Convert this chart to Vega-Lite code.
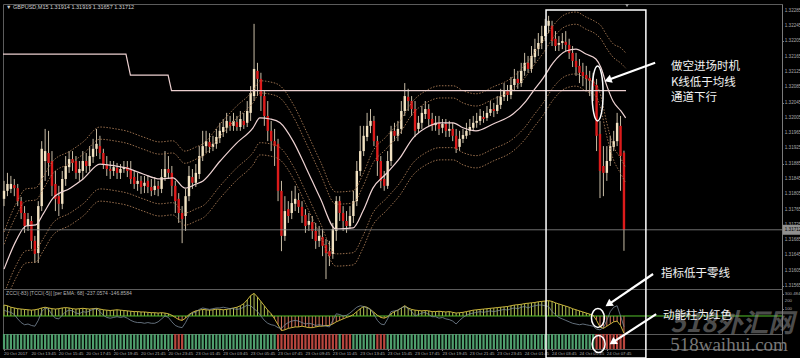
{
"$schema": "https://vega.github.io/schema/vega-lite/v6.json",
"background": "#000000",
"padding": {"top": 3, "left": 0, "right": 0, "bottom": 0},
"bounds": "flush",
"spacing": 0,
"config": {
  "view": {"stroke": "#5c5c5c", "strokeWidth": 1},
  "axis": {"labelFont": "Liberation Sans", "labelFontSize": 4.4, "labelColor": "#a9a9a9", "domainColor": "#7a7a7a", "tickColor": "#7a7a7a", "tickSize": 1.5, "grid": false, "labelPadding": 1},
  "text": {"font": "Noto Sans CJK SC"}
},
"datasets": {
  "one": [{"n": 1}],
  "pticks": [{"v":1.31565},{"v":1.31605},{"v":1.31645},{"v":1.31685},{"v":1.31725},{"v":1.31765},{"v":1.31805},{"v":1.31845},{"v":1.31885},{"v":1.31925},{"v":1.31965},{"v":1.32005},{"v":1.32045},{"v":1.32085},{"v":1.32125},{"v":1.32165},{"v":1.32205},{"v":1.32245},{"v":1.32285}],
  "iticks": [{"v":300.4843},{"v":200},{"v":100}],
  "dticks": [{"i":0,"d":"20 Oct 2017"},{"i":8,"d":"20 Oct 13:45"},{"i":16,"d":"20 Oct 15:45"},{"i":24,"d":"20 Oct 17:45"},{"i":32,"d":"20 Oct 19:45"},{"i":40,"d":"20 Oct 21:45"},{"i":48,"d":"20 Oct 23:45"},{"i":56,"d":"23 Oct 01:45"},{"i":64,"d":"23 Oct 03:45"},{"i":72,"d":"23 Oct 05:45"},{"i":80,"d":"23 Oct 07:45"},{"i":88,"d":"23 Oct 09:45"},{"i":96,"d":"23 Oct 11:45"},{"i":104,"d":"23 Oct 13:45"},{"i":112,"d":"23 Oct 15:45"},{"i":120,"d":"23 Oct 17:45"},{"i":128,"d":"23 Oct 19:45"},{"i":136,"d":"23 Oct 21:45"},{"i":144,"d":"23 Oct 23:45"},{"i":152,"d":"24 Oct 01:45"},{"i":160,"d":"24 Oct 03:45"},{"i":168,"d":"24 Oct 05:45"},{"i":176,"d":"24 Oct 07:45"}],
  "candles": [
{"i":0,"o":1.31793,"h":1.3184,"l":1.31774,"c":1.31814,"z":150,"t":80,"m":"g"},
{"i":1,"o":1.31814,"h":1.31861,"l":1.318,"c":1.31832,"z":140,"t":60,"m":"g"},
{"i":2,"o":1.31819,"h":1.31853,"l":1.31808,"c":1.31832,"z":120,"t":50,"m":"g"},
{"i":3,"o":1.31829,"h":1.31845,"l":1.318,"c":1.31821,"z":110,"t":20,"m":"g"},
{"i":4,"o":1.31821,"h":1.31832,"l":1.31774,"c":1.31787,"z":100,"t":-40,"m":"g"},
{"i":5,"o":1.31787,"h":1.31798,"l":1.3174,"c":1.31756,"z":95,"t":-90,"m":"g"},
{"i":6,"o":1.31756,"h":1.31774,"l":1.31704,"c":1.31722,"z":90,"t":-120,"m":"g"},
{"i":7,"o":1.31722,"h":1.31756,"l":1.31709,"c":1.3174,"z":85,"t":-110,"m":"g"},
{"i":8,"o":1.31735,"h":1.31748,"l":1.31662,"c":1.31683,"z":80,"t":-130,"m":"g"},
{"i":9,"o":1.31683,"h":1.31696,"l":1.31625,"c":1.31649,"z":85,"t":-140,"m":"g"},
{"i":10,"o":1.31651,"h":1.31787,"l":1.31625,"c":1.31774,"z":95,"t":-60,"m":"g"},
{"i":11,"o":1.31774,"h":1.31944,"l":1.31761,"c":1.31924,"z":110,"t":60,"m":"g"},
{"i":12,"o":1.31892,"h":1.31976,"l":1.3184,"c":1.31918,"z":120,"t":110,"m":"g"},
{"i":13,"o":1.31913,"h":1.31971,"l":1.31853,"c":1.31887,"z":110,"t":90,"m":"g"},
{"i":14,"o":1.31892,"h":1.31918,"l":1.318,"c":1.31827,"z":100,"t":20,"m":"g"},
{"i":15,"o":1.31832,"h":1.31866,"l":1.31761,"c":1.31793,"z":95,"t":-30,"m":"g"},
{"i":16,"o":1.318,"h":1.31827,"l":1.31748,"c":1.3178,"z":100,"t":-40,"m":"g"},
{"i":17,"o":1.3178,"h":1.31866,"l":1.31766,"c":1.31845,"z":110,"t":10,"m":"g"},
{"i":18,"o":1.31845,"h":1.31905,"l":1.31827,"c":1.31879,"z":115,"t":60,"m":"g"},
{"i":19,"o":1.31876,"h":1.31918,"l":1.31861,"c":1.31897,"z":110,"t":80,"m":"g"},
{"i":20,"o":1.31897,"h":1.31918,"l":1.31866,"c":1.31887,"z":100,"t":70,"m":"g"},
{"i":21,"o":1.31892,"h":1.31905,"l":1.31845,"c":1.31861,"z":95,"t":40,"m":"g"},
{"i":22,"o":1.31861,"h":1.31892,"l":1.3184,"c":1.31871,"z":100,"t":30,"m":"g"},
{"i":23,"o":1.31866,"h":1.31918,"l":1.31845,"c":1.31892,"z":105,"t":60,"m":"g"},
{"i":24,"o":1.31892,"h":1.31913,"l":1.31861,"c":1.31879,"z":100,"t":50,"m":"g"},
{"i":25,"o":1.31879,"h":1.31931,"l":1.31866,"c":1.31905,"z":95,"t":70,"m":"g"},
{"i":26,"o":1.31903,"h":1.3195,"l":1.31887,"c":1.31924,"z":100,"t":90,"m":"g"},
{"i":27,"o":1.31924,"h":1.31976,"l":1.31905,"c":1.31937,"z":105,"t":100,"m":"g"},
{"i":28,"o":1.31931,"h":1.31958,"l":1.31897,"c":1.31913,"z":95,"t":60,"m":"g"},
{"i":29,"o":1.31913,"h":1.31924,"l":1.31871,"c":1.31884,"z":85,"t":10,"m":"g"},
{"i":30,"o":1.31884,"h":1.31905,"l":1.31853,"c":1.31871,"z":80,"t":-20,"m":"g"},
{"i":31,"o":1.31871,"h":1.31892,"l":1.31845,"c":1.31866,"z":75,"t":-30,"m":"g"},
{"i":32,"o":1.31866,"h":1.31892,"l":1.31853,"c":1.31876,"z":80,"t":-20,"m":"g"},
{"i":33,"o":1.31874,"h":1.31887,"l":1.31845,"c":1.31861,"z":85,"t":-10,"m":"g"},
{"i":34,"o":1.31861,"h":1.31884,"l":1.31845,"c":1.31871,"z":80,"t":-20,"m":"g"},
{"i":35,"o":1.31871,"h":1.31892,"l":1.31861,"c":1.31876,"z":75,"t":-10,"m":"g"},
{"i":36,"o":1.31876,"h":1.31892,"l":1.3185,"c":1.31866,"z":70,"t":-30,"m":"g"},
{"i":37,"o":1.31871,"h":1.31892,"l":1.31832,"c":1.31845,"z":65,"t":-60,"m":"g"},
{"i":38,"o":1.3185,"h":1.31866,"l":1.31819,"c":1.31832,"z":60,"t":-80,"m":"g"},
{"i":39,"o":1.31832,"h":1.31861,"l":1.31814,"c":1.3184,"z":60,"t":-90,"m":"g"},
{"i":40,"o":1.3184,"h":1.31853,"l":1.31806,"c":1.31824,"z":55,"t":-90,"m":"g"},
{"i":41,"o":1.31827,"h":1.31853,"l":1.31808,"c":1.31835,"z":55,"t":-100,"m":"g"},
{"i":42,"o":1.3184,"h":1.31855,"l":1.31808,"c":1.31824,"z":50,"t":-90,"m":"g"},
{"i":43,"o":1.31824,"h":1.31845,"l":1.318,"c":1.31814,"z":45,"t":-100,"m":"g"},
{"i":44,"o":1.31816,"h":1.3185,"l":1.31803,"c":1.31827,"z":45,"t":-100,"m":"g"},
{"i":45,"o":1.31827,"h":1.3184,"l":1.318,"c":1.31819,"z":40,"t":-80,"m":"g"},
{"i":46,"o":1.31819,"h":1.31871,"l":1.31808,"c":1.3185,"z":45,"t":-40,"m":"g"},
{"i":47,"o":1.3185,"h":1.31918,"l":1.3184,"c":1.31871,"z":40,"t":0,"m":"g"},
{"i":48,"o":1.31871,"h":1.31905,"l":1.31845,"c":1.31861,"z":30,"t":-20,"m":"g"},
{"i":49,"o":1.31861,"h":1.31879,"l":1.318,"c":1.31827,"z":10,"t":-80,"m":"g"},
{"i":50,"o":1.31827,"h":1.3184,"l":1.31756,"c":1.31787,"z":-20,"t":-130,"m":"r"},
{"i":51,"o":1.31793,"h":1.31808,"l":1.3173,"c":1.31756,"z":-50,"t":-150,"m":"r"},
{"i":52,"o":1.31756,"h":1.31774,"l":1.31677,"c":1.3174,"z":-60,"t":-160,"m":"r"},
{"i":53,"o":1.31748,"h":1.31819,"l":1.31709,"c":1.318,"z":-30,"t":-90,"m":"g"},
{"i":54,"o":1.318,"h":1.31879,"l":1.31787,"c":1.31853,"z":20,"t":0,"m":"g"},
{"i":55,"o":1.3185,"h":1.31871,"l":1.31819,"c":1.31835,"z":50,"t":40,"m":"g"},
{"i":56,"o":1.31835,"h":1.31884,"l":1.31824,"c":1.31861,"z":70,"t":50,"m":"g"},
{"i":57,"o":1.31858,"h":1.31931,"l":1.31845,"c":1.31905,"z":80,"t":90,"m":"g"},
{"i":58,"o":1.31905,"h":1.31971,"l":1.31892,"c":1.31931,"z":90,"t":110,"m":"g"},
{"i":59,"o":1.31931,"h":1.31971,"l":1.31913,"c":1.31944,"z":85,"t":100,"m":"g"},
{"i":60,"o":1.31942,"h":1.31965,"l":1.31913,"c":1.31929,"z":80,"t":90,"m":"g"},
{"i":61,"o":1.31929,"h":1.31958,"l":1.31918,"c":1.31937,"z":85,"t":100,"m":"g"},
{"i":62,"o":1.31937,"h":1.31976,"l":1.31924,"c":1.31955,"z":95,"t":110,"m":"g"},
{"i":63,"o":1.31952,"h":1.31992,"l":1.31939,"c":1.31971,"z":90,"t":110,"m":"g"},
{"i":64,"o":1.31968,"h":1.32002,"l":1.31955,"c":1.31981,"z":85,"t":120,"m":"g"},
{"i":65,"o":1.31979,"h":1.32018,"l":1.31965,"c":1.31997,"z":90,"t":110,"m":"g"},
{"i":66,"o":1.31994,"h":1.3201,"l":1.31971,"c":1.31984,"z":100,"t":100,"m":"g"},
{"i":67,"o":1.31984,"h":1.32018,"l":1.31971,"c":1.31997,"z":110,"t":100,"m":"g"},
{"i":68,"o":1.31994,"h":1.3201,"l":1.31971,"c":1.31981,"z":120,"t":90,"m":"g"},
{"i":69,"o":1.31981,"h":1.32023,"l":1.31971,"c":1.32002,"z":140,"t":100,"m":"g"},
{"i":70,"o":1.31997,"h":1.32018,"l":1.31976,"c":1.31986,"z":170,"t":120,"m":"g"},
{"i":71,"o":1.31992,"h":1.32049,"l":1.31981,"c":1.32023,"z":220,"t":150,"m":"g"},
{"i":72,"o":1.32018,"h":1.32088,"l":1.31997,"c":1.3207,"z":280,"t":140,"m":"g"},
{"i":73,"o":1.32062,"h":1.32251,"l":1.32049,"c":1.32133,"z":310,"t":100,"m":"g"},
{"i":74,"o":1.32128,"h":1.32149,"l":1.32062,"c":1.32107,"z":260,"t":60,"m":"g"},
{"i":75,"o":1.32107,"h":1.32123,"l":1.32023,"c":1.32062,"z":200,"t":0,"m":"g"},
{"i":76,"o":1.32062,"h":1.32075,"l":1.31984,"c":1.3201,"z":140,"t":-60,"m":"g"},
{"i":77,"o":1.3201,"h":1.32049,"l":1.31944,"c":1.31971,"z":80,"t":-100,"m":"g"},
{"i":78,"o":1.31971,"h":1.31997,"l":1.31918,"c":1.31944,"z":30,"t":-120,"m":"g"},
{"i":79,"o":1.31944,"h":1.31976,"l":1.31879,"c":1.31931,"z":-40,"t":-130,"m":"g"},
{"i":80,"o":1.31937,"h":1.3195,"l":1.31787,"c":1.31814,"z":-120,"t":-160,"m":"r"},
{"i":81,"o":1.31814,"h":1.3184,"l":1.31656,"c":1.31696,"z":-200,"t":-170,"m":"r"},
{"i":82,"o":1.31696,"h":1.318,"l":1.31683,"c":1.31761,"z":-190,"t":-120,"m":"r"},
{"i":83,"o":1.31766,"h":1.31787,"l":1.3173,"c":1.31748,"z":-170,"t":-90,"m":"r"},
{"i":84,"o":1.31756,"h":1.31814,"l":1.3174,"c":1.31782,"z":-160,"t":-70,"m":"r"},
{"i":85,"o":1.3178,"h":1.31827,"l":1.31761,"c":1.31793,"z":-150,"t":-60,"m":"r"},
{"i":86,"o":1.3179,"h":1.31808,"l":1.31756,"c":1.31772,"z":-150,"t":-70,"m":"r"},
{"i":87,"o":1.31772,"h":1.31787,"l":1.3173,"c":1.31748,"z":-140,"t":-90,"m":"r"},
{"i":88,"o":1.31751,"h":1.31766,"l":1.31704,"c":1.31722,"z":-150,"t":-110,"m":"r"},
{"i":89,"o":1.31725,"h":1.31756,"l":1.31709,"c":1.31735,"z":-160,"t":-100,"m":"r"},
{"i":90,"o":1.31732,"h":1.31748,"l":1.31688,"c":1.31709,"z":-160,"t":-110,"m":"r"},
{"i":91,"o":1.31709,"h":1.3173,"l":1.31662,"c":1.31683,"z":-150,"t":-130,"m":"r"},
{"i":92,"o":1.31683,"h":1.31722,"l":1.31667,"c":1.31696,"z":-140,"t":-120,"m":"r"},
{"i":93,"o":1.31693,"h":1.31714,"l":1.31643,"c":1.3167,"z":-140,"t":-130,"m":"r"},
{"i":94,"o":1.31672,"h":1.31688,"l":1.31583,"c":1.31651,"z":-130,"t":-140,"m":"r"},
{"i":95,"o":1.31656,"h":1.31683,"l":1.31617,"c":1.31643,"z":-130,"t":-150,"m":"r"},
{"i":96,"o":1.31649,"h":1.3173,"l":1.31636,"c":1.31714,"z":-110,"t":-60,"m":"r"},
{"i":97,"o":1.31709,"h":1.318,"l":1.31683,"c":1.31787,"z":-80,"t":30,"m":"r"},
{"i":98,"o":1.31787,"h":1.318,"l":1.31735,"c":1.31756,"z":-60,"t":20,"m":"g"},
{"i":99,"o":1.31756,"h":1.31774,"l":1.31709,"c":1.31735,"z":-40,"t":0,"m":"r"},
{"i":100,"o":1.31735,"h":1.31761,"l":1.31704,"c":1.31722,"z":-20,"t":10,"m":"r"},
{"i":101,"o":1.31722,"h":1.31774,"l":1.31714,"c":1.31748,"z":-5,"t":40,"m":"r"},
{"i":102,"o":1.31748,"h":1.31814,"l":1.3173,"c":1.31787,"z":20,"t":80,"m":"g"},
{"i":103,"o":1.31787,"h":1.31892,"l":1.31774,"c":1.31866,"z":60,"t":120,"m":"g"},
{"i":104,"o":1.31866,"h":1.31984,"l":1.31853,"c":1.31918,"z":100,"t":140,"m":"g"},
{"i":105,"o":1.31918,"h":1.31984,"l":1.31905,"c":1.31958,"z":130,"t":130,"m":"g"},
{"i":106,"o":1.31955,"h":1.32018,"l":1.31944,"c":1.31984,"z":120,"t":110,"m":"g"},
{"i":107,"o":1.31984,"h":1.32028,"l":1.31965,"c":1.31997,"z":90,"t":90,"m":"g"},
{"i":108,"o":1.31997,"h":1.3201,"l":1.31931,"c":1.31944,"z":50,"t":20,"m":"g"},
{"i":109,"o":1.31944,"h":1.31958,"l":1.31853,"c":1.31892,"z":10,"t":-60,"m":"r"},
{"i":110,"o":1.31892,"h":1.31905,"l":1.31821,"c":1.3184,"z":-20,"t":-110,"m":"r"},
{"i":111,"o":1.31845,"h":1.31866,"l":1.31814,"c":1.31827,"z":-30,"t":-120,"m":"r"},
{"i":112,"o":1.31827,"h":1.31918,"l":1.31819,"c":1.31892,"z":-10,"t":-40,"m":"g"},
{"i":113,"o":1.31892,"h":1.31984,"l":1.31879,"c":1.31971,"z":30,"t":60,"m":"g"},
{"i":114,"o":1.31971,"h":1.31992,"l":1.31944,"c":1.31958,"z":60,"t":70,"m":"g"},
{"i":115,"o":1.31958,"h":1.31997,"l":1.31944,"c":1.31976,"z":80,"t":80,"m":"g"},
{"i":116,"o":1.31976,"h":1.32049,"l":1.31963,"c":1.32023,"z":110,"t":110,"m":"g"},
{"i":117,"o":1.32023,"h":1.32096,"l":1.3201,"c":1.32062,"z":140,"t":130,"m":"g"},
{"i":118,"o":1.3206,"h":1.32081,"l":1.32023,"c":1.32049,"z":110,"t":100,"m":"g"},
{"i":119,"o":1.32049,"h":1.32062,"l":1.3201,"c":1.32028,"z":90,"t":60,"m":"g"},
{"i":120,"o":1.32028,"h":1.32049,"l":1.31955,"c":1.31971,"z":80,"t":0,"m":"g"},
{"i":121,"o":1.31976,"h":1.3201,"l":1.31965,"c":1.31992,"z":75,"t":20,"m":"g"},
{"i":122,"o":1.31992,"h":1.32036,"l":1.31976,"c":1.32018,"z":70,"t":40,"m":"g"},
{"i":123,"o":1.32015,"h":1.32049,"l":1.32002,"c":1.32028,"z":75,"t":50,"m":"g"},
{"i":124,"o":1.32028,"h":1.32041,"l":1.31984,"c":1.32002,"z":70,"t":20,"m":"g"},
{"i":125,"o":1.32002,"h":1.32018,"l":1.31971,"c":1.31984,"z":60,"t":-10,"m":"g"},
{"i":126,"o":1.31986,"h":1.3201,"l":1.31971,"c":1.31992,"z":60,"t":-10,"m":"g"},
{"i":127,"o":1.31992,"h":1.3201,"l":1.3196,"c":1.31976,"z":65,"t":-30,"m":"g"},
{"i":128,"o":1.31979,"h":1.32002,"l":1.31965,"c":1.31989,"z":60,"t":-20,"m":"g"},
{"i":129,"o":1.31989,"h":1.32002,"l":1.31955,"c":1.31971,"z":55,"t":-40,"m":"g"},
{"i":130,"o":1.31971,"h":1.31997,"l":1.31955,"c":1.31976,"z":60,"t":-50,"m":"g"},
{"i":131,"o":1.31976,"h":1.31992,"l":1.31944,"c":1.31958,"z":50,"t":-70,"m":"g"},
{"i":132,"o":1.31958,"h":1.31976,"l":1.31913,"c":1.31924,"z":40,"t":-110,"m":"g"},
{"i":133,"o":1.31929,"h":1.31971,"l":1.31918,"c":1.3195,"z":45,"t":-60,"m":"g"},
{"i":134,"o":1.3195,"h":1.31976,"l":1.31939,"c":1.3196,"z":50,"t":-20,"m":"g"},
{"i":135,"o":1.31958,"h":1.31992,"l":1.3195,"c":1.31971,"z":60,"t":10,"m":"g"},
{"i":136,"o":1.31971,"h":1.32002,"l":1.3196,"c":1.31981,"z":70,"t":30,"m":"g"},
{"i":137,"o":1.31979,"h":1.3201,"l":1.31971,"c":1.31992,"z":80,"t":40,"m":"g"},
{"i":138,"o":1.31992,"h":1.32018,"l":1.31979,"c":1.31997,"z":85,"t":50,"m":"g"},
{"i":139,"o":1.31997,"h":1.32028,"l":1.31986,"c":1.3201,"z":90,"t":60,"m":"g"},
{"i":140,"o":1.32007,"h":1.32023,"l":1.31992,"c":1.32002,"z":95,"t":50,"m":"g"},
{"i":141,"o":1.32005,"h":1.32036,"l":1.31997,"c":1.32018,"z":100,"t":60,"m":"g"},
{"i":142,"o":1.32018,"h":1.32049,"l":1.3201,"c":1.32028,"z":105,"t":70,"m":"g"},
{"i":143,"o":1.32028,"h":1.32044,"l":1.32007,"c":1.32023,"z":110,"t":60,"m":"g"},
{"i":144,"o":1.32023,"h":1.32062,"l":1.32015,"c":1.32039,"z":115,"t":70,"m":"g"},
{"i":145,"o":1.32039,"h":1.32081,"l":1.32028,"c":1.3206,"z":120,"t":80,"m":"g"},
{"i":146,"o":1.3206,"h":1.32096,"l":1.32049,"c":1.32075,"z":125,"t":90,"m":"g"},
{"i":147,"o":1.32075,"h":1.32091,"l":1.32049,"c":1.32065,"z":130,"t":80,"m":"g"},
{"i":148,"o":1.32065,"h":1.32112,"l":1.32054,"c":1.32091,"z":140,"t":100,"m":"g"},
{"i":149,"o":1.32091,"h":1.32133,"l":1.32075,"c":1.32107,"z":150,"t":110,"m":"g"},
{"i":150,"o":1.32107,"h":1.32128,"l":1.32081,"c":1.32096,"z":155,"t":100,"m":"g"},
{"i":151,"o":1.32096,"h":1.32149,"l":1.32086,"c":1.32128,"z":160,"t":120,"m":"g"},
{"i":152,"o":1.32128,"h":1.32175,"l":1.32115,"c":1.32149,"z":170,"t":130,"m":"g"},
{"i":153,"o":1.32149,"h":1.32167,"l":1.32123,"c":1.32133,"z":175,"t":110,"m":"g"},
{"i":154,"o":1.32133,"h":1.32193,"l":1.32123,"c":1.32167,"z":180,"t":130,"m":"g"},
{"i":155,"o":1.32164,"h":1.32212,"l":1.32149,"c":1.32185,"z":185,"t":140,"m":"g"},
{"i":156,"o":1.32185,"h":1.32227,"l":1.32167,"c":1.32201,"z":195,"t":150,"m":"g"},
{"i":157,"o":1.32201,"h":1.32246,"l":1.32185,"c":1.32219,"z":200,"t":150,"m":"g"},
{"i":158,"o":1.32219,"h":1.32264,"l":1.32206,"c":1.32246,"z":205,"t":140,"m":"g"},
{"i":159,"o":1.32246,"h":1.32272,"l":1.32227,"c":1.32259,"z":210,"t":130,"m":"g"},
{"i":160,"o":1.32246,"h":1.32259,"l":1.32193,"c":1.32206,"z":200,"t":60,"m":"g"},
{"i":161,"o":1.32212,"h":1.32232,"l":1.3218,"c":1.32193,"z":180,"t":20,"m":"g"},
{"i":162,"o":1.32196,"h":1.32219,"l":1.3218,"c":1.32201,"z":165,"t":-20,"m":"g"},
{"i":163,"o":1.32201,"h":1.32227,"l":1.32185,"c":1.32206,"z":150,"t":-40,"m":"g"},
{"i":164,"o":1.32204,"h":1.32232,"l":1.3218,"c":1.32196,"z":135,"t":-60,"m":"g"},
{"i":165,"o":1.32196,"h":1.32212,"l":1.32159,"c":1.32175,"z":120,"t":-80,"m":"g"},
{"i":166,"o":1.32175,"h":1.32193,"l":1.32138,"c":1.32154,"z":100,"t":-100,"m":"g"},
{"i":167,"o":1.32154,"h":1.32175,"l":1.32115,"c":1.32138,"z":85,"t":-110,"m":"g"},
{"i":168,"o":1.32141,"h":1.32159,"l":1.32096,"c":1.32123,"z":70,"t":-120,"m":"g"},
{"i":169,"o":1.32125,"h":1.32149,"l":1.32088,"c":1.32115,"z":55,"t":-110,"m":"g"},
{"i":170,"o":1.32117,"h":1.32141,"l":1.32075,"c":1.32107,"z":40,"t":-120,"m":"g"},
{"i":171,"o":1.32109,"h":1.32128,"l":1.32062,"c":1.32102,"z":25,"t":-130,"m":"g"},
{"i":172,"o":1.32102,"h":1.32123,"l":1.32049,"c":1.32088,"z":10,"t":-140,"m":"g"},
{"i":173,"o":1.32091,"h":1.32107,"l":1.31918,"c":1.31958,"z":-60,"t":-180,"m":"r"},
{"i":174,"o":1.31963,"h":1.31997,"l":1.31795,"c":1.31866,"z":-150,"t":-190,"m":"r"},
{"i":175,"o":1.31879,"h":1.31931,"l":1.318,"c":1.31861,"z":-170,"t":-160,"m":"r"},
{"i":176,"o":1.31861,"h":1.31931,"l":1.3184,"c":1.31892,"z":-140,"t":-60,"m":"r"},
{"i":177,"o":1.31892,"h":1.31958,"l":1.31879,"c":1.31931,"z":-110,"t":60,"m":"r"},
{"i":178,"o":1.31929,"h":1.31971,"l":1.31918,"c":1.31944,"z":-80,"t":120,"m":"r"},
{"i":179,"o":1.31944,"h":1.32018,"l":1.31931,"c":1.31992,"z":-70,"t":140,"m":"r"},
{"i":180,"o":1.31984,"h":1.3201,"l":1.31814,"c":1.31905,"z":-130,"t":0,"m":"r"},
{"i":181,"o":1.31914,"h":1.31919,"l":1.31657,"c":1.31712,"z":-237.06,"t":-146.86,"m":"r"}
  ],
  "ma": [
{"i":0,"ma":1.31609,"u1":1.31674,"u2":1.31706,"d1":1.31544,"d2":1.31512},
{"i":3.5,"ma":1.31683,"u1":1.31748,"u2":1.3178,"d1":1.31618,"d2":1.31586},
{"i":6.4,"ma":1.31722,"u1":1.31787,"u2":1.31819,"d1":1.31657,"d2":1.31625},
{"i":9.3,"ma":1.31725,"u1":1.3179,"u2":1.31822,"d1":1.3166,"d2":1.31628},
{"i":11.4,"ma":1.31753,"u1":1.31818,"u2":1.3185,"d1":1.31688,"d2":1.31656},
{"i":14.3,"ma":1.31795,"u1":1.3186,"u2":1.31892,"d1":1.3173,"d2":1.31698},
{"i":19.3,"ma":1.31821,"u1":1.31886,"u2":1.31918,"d1":1.31756,"d2":1.31724},
{"i":23.1,"ma":1.31845,"u1":1.3191,"u2":1.31942,"d1":1.3178,"d2":1.31748},
{"i":28,"ma":1.31884,"u1":1.31949,"u2":1.31981,"d1":1.31819,"d2":1.31787},
{"i":32.7,"ma":1.31879,"u1":1.31944,"u2":1.31976,"d1":1.31814,"d2":1.31782},
{"i":35.6,"ma":1.31874,"u1":1.31939,"u2":1.31971,"d1":1.31809,"d2":1.31777},
{"i":40.6,"ma":1.31858,"u1":1.31923,"u2":1.31955,"d1":1.31793,"d2":1.31761},
{"i":45.5,"ma":1.31845,"u1":1.3191,"u2":1.31942,"d1":1.3178,"d2":1.31748},
{"i":49.3,"ma":1.31848,"u1":1.31913,"u2":1.31945,"d1":1.31783,"d2":1.31751},
{"i":52.8,"ma":1.31821,"u1":1.31886,"u2":1.31918,"d1":1.31756,"d2":1.31724},
{"i":56.1,"ma":1.31832,"u1":1.31897,"u2":1.31929,"d1":1.31767,"d2":1.31735},
{"i":58.1,"ma":1.3184,"u1":1.31905,"u2":1.31937,"d1":1.31775,"d2":1.31743},
{"i":63.1,"ma":1.31892,"u1":1.31957,"u2":1.31989,"d1":1.31827,"d2":1.31795},
{"i":67.7,"ma":1.31937,"u1":1.32002,"u2":1.32034,"d1":1.31872,"d2":1.3184},
{"i":72.7,"ma":1.31979,"u1":1.32044,"u2":1.32076,"d1":1.31914,"d2":1.31882},
{"i":74.7,"ma":1.32005,"u1":1.3207,"u2":1.32102,"d1":1.3194,"d2":1.31908},
{"i":77.7,"ma":1.32002,"u1":1.32067,"u2":1.32099,"d1":1.31937,"d2":1.31905},
{"i":80.6,"ma":1.31992,"u1":1.32057,"u2":1.32089,"d1":1.31927,"d2":1.31895},
{"i":84.4,"ma":1.31944,"u1":1.32009,"u2":1.32041,"d1":1.31879,"d2":1.31847},
{"i":88.2,"ma":1.31874,"u1":1.31939,"u2":1.31971,"d1":1.31809,"d2":1.31777},
{"i":92.3,"ma":1.31795,"u1":1.3186,"u2":1.31892,"d1":1.3173,"d2":1.31698},
{"i":96.9,"ma":1.31714,"u1":1.31779,"u2":1.31811,"d1":1.31649,"d2":1.31617},
{"i":101.9,"ma":1.31717,"u1":1.31782,"u2":1.31814,"d1":1.31652,"d2":1.3162},
{"i":104.8,"ma":1.31761,"u1":1.31826,"u2":1.31858,"d1":1.31696,"d2":1.31664},
{"i":107.7,"ma":1.31821,"u1":1.31886,"u2":1.31918,"d1":1.31756,"d2":1.31724},
{"i":111.5,"ma":1.31858,"u1":1.31923,"u2":1.31955,"d1":1.31793,"d2":1.31761},
{"i":115.6,"ma":1.319,"u1":1.31965,"u2":1.31997,"d1":1.31835,"d2":1.31803},
{"i":119.4,"ma":1.31952,"u1":1.32017,"u2":1.32049,"d1":1.31887,"d2":1.31855},
{"i":123.2,"ma":1.31979,"u1":1.32044,"u2":1.32076,"d1":1.31914,"d2":1.31882},
{"i":127.3,"ma":1.31992,"u1":1.32057,"u2":1.32089,"d1":1.31927,"d2":1.31895},
{"i":131.1,"ma":1.31992,"u1":1.32057,"u2":1.32089,"d1":1.31927,"d2":1.31895},
{"i":134,"ma":1.31979,"u1":1.32044,"u2":1.32076,"d1":1.31914,"d2":1.31882},
{"i":137.8,"ma":1.31971,"u1":1.32036,"u2":1.32068,"d1":1.31906,"d2":1.31874},
{"i":142.8,"ma":1.31989,"u1":1.32054,"u2":1.32086,"d1":1.31924,"d2":1.31892},
{"i":148.6,"ma":1.32015,"u1":1.3208,"u2":1.32112,"d1":1.3195,"d2":1.31918},
{"i":152.4,"ma":1.32049,"u1":1.32114,"u2":1.32146,"d1":1.31984,"d2":1.31952},
{"i":154.5,"ma":1.32075,"u1":1.3214,"u2":1.32172,"d1":1.3201,"d2":1.31978},
{"i":157.4,"ma":1.32109,"u1":1.32174,"u2":1.32206,"d1":1.32044,"d2":1.32012},
{"i":160.3,"ma":1.32149,"u1":1.32214,"u2":1.32246,"d1":1.32084,"d2":1.32052},
{"i":164.1,"ma":1.3218,"u1":1.32245,"u2":1.32277,"d1":1.32115,"d2":1.32083},
{"i":167,"ma":1.32185,"u1":1.3225,"u2":1.32282,"d1":1.3212,"d2":1.32088},
{"i":169.9,"ma":1.32172,"u1":1.32237,"u2":1.32269,"d1":1.32107,"d2":1.32075},
{"i":172.8,"ma":1.32159,"u1":1.32224,"u2":1.32256,"d1":1.32094,"d2":1.32062},
{"i":174.3,"ma":1.32136,"u1":1.32211,"u2":1.32246,"d1":1.32061,"d2":1.32026},
{"i":175.8,"ma":1.32094,"u1":1.32189,"u2":1.32224,"d1":1.31999,"d2":1.31964},
{"i":177.8,"ma":1.32049,"u1":1.32164,"u2":1.32199,"d1":1.31934,"d2":1.31899},
{"i":180.1,"ma":1.32023,"u1":1.32148,"u2":1.32188,"d1":1.31898,"d2":1.31858},
{"i":181.5,"ma":1.32005,"u1":1.32135,"u2":1.32175,"d1":1.31875,"d2":1.31835}
  ],
  "level": [
{"i":-0.3,"v":1.32172},{"i":35.6,"v":1.32172},{"i":36.9,"v":1.32117},{"i":47.9,"v":1.32117},{"i":48.9,"v":1.32076},{"i":181.6,"v":1.32076}
  ]
},
"vconcat": [
{
  "width": 779, "height": 285,
  "layer": [
    {"data": {"name": "candles"}, "mark": {"type": "rule", "color": "#c9bda6", "strokeWidth": 1},
     "encoding": {
      "x": {"field": "i", "type": "quantitative", "scale": {"domain": [-0.3, 227.14], "nice": false, "zero": false}, "axis": null},
      "y": {"field": "l", "type": "quantitative", "scale": {"domain": [1.31557, 1.32303], "nice": false, "zero": false},
       "axis": {"orient": "right", "title": null, "labels": false, "values": [1.31565,1.31605,1.31645,1.31685,1.31725,1.31765,1.31805,1.31845,1.31885,1.31925,1.31965,1.32005,1.32045,1.32085,1.32125,1.32165,1.32205,1.32245,1.32285]}},
      "y2": {"field": "h"}}},
    {"data": {"name": "candles"}, "mark": {"type": "rule", "strokeWidth": 2.4},
     "encoding": {
      "x": {"field": "i", "type": "quantitative", "scale": {"domain": [-0.3, 227.14], "nice": false, "zero": false}, "axis": null},
      "y": {"field": "o", "type": "quantitative", "scale": {"domain": [1.31557, 1.32303], "nice": false, "zero": false}, "title": null},
      "y2": {"field": "c"},
      "color": {"condition": {"test": "datum.c >= datum.o", "value": "#f2e2c2"}, "value": "#dd1b1b"}}},
    {"data": {"name": "ma"}, "transform": [{"fold": ["u1", "u2", "d1", "d2"], "as": ["band", "v"]}],
     "mark": {"type": "line", "clip": true, "color": "#a87a55", "strokeWidth": 0.9, "strokeDash": [1.5, 1.5], "interpolate": "monotone"},
     "encoding": {
      "x": {"field": "i", "type": "quantitative", "scale": {"domain": [-0.3, 227.14], "nice": false, "zero": false}, "axis": null},
      "y": {"field": "v", "type": "quantitative", "scale": {"domain": [1.31557, 1.32303], "nice": false, "zero": false}, "title": null}, "detail": {"field": "band", "type": "nominal"}}},
    {"data": {"name": "ma"}, "mark": {"type": "line", "clip": true, "color": "#efd3d3", "strokeWidth": 1.2, "interpolate": "monotone"},
     "encoding": {
      "x": {"field": "i", "type": "quantitative", "scale": {"domain": [-0.3, 227.14], "nice": false, "zero": false}, "axis": null},
      "y": {"field": "ma", "type": "quantitative", "scale": {"domain": [1.31557, 1.32303], "nice": false, "zero": false}, "title": null}}},
    {"data": {"name": "level"}, "mark": {"type": "line", "color": "#eccfcf", "strokeWidth": 1.2},
     "encoding": {
      "x": {"field": "i", "type": "quantitative", "scale": {"domain": [-0.3, 227.14], "nice": false, "zero": false}, "axis": null},
      "y": {"field": "v", "type": "quantitative", "scale": {"domain": [1.31557, 1.32303], "nice": false, "zero": false}, "title": null}}},
    {"data": {"name": "pticks"}, "mark": {"type": "text", "font": "Liberation Sans", "fontSize": 4.6, "color": "#a9a9a9", "align": "left", "baseline": "middle"},
     "encoding": {"x": {"datum": 227.95, "axis": null}, "y": {"field": "v", "type": "quantitative", "title": null}, "text": {"field": "v", "type": "quantitative", "format": ".5f"}}},
    {"data": {"name": "one"}, "mark": {"type": "rule", "color": "#8c8c8c", "strokeWidth": 0.8},
     "encoding": {"x": {"datum": -0.3, "axis": null}, "x2": {"datum": 227.14}, "y": {"datum": 1.31712, "title": null}}},
    {"data": {"name": "one"}, "mark": {"type": "rect", "color": "#8f8f8f"},
     "encoding": {"x": {"datum": 227.4, "axis": null}, "x2": {"datum": 233.3}, "y": {"datum": 1.31725, "title": null}, "y2": {"datum": 1.31699}}},
    {"data": {"name": "one"}, "mark": {"type": "text", "font": "Liberation Sans", "fontSize": 4.6, "color": "#000000", "align": "left", "baseline": "middle"},
     "encoding": {"x": {"datum": 227.95, "axis": null}, "y": {"datum": 1.31712, "title": null}, "text": {"value": "1.31712"}}},
    {"data": {"name": "one"}, "mark": {"type": "text", "font": "Liberation Sans", "fontSize": 5.5, "color": "#cfcfcf", "align": "left", "baseline": "middle"},
     "encoding": {"x": {"datum": 0.6, "axis": null}, "y": {"datum": 1.32295, "title": null}, "text": {"value": "▼ GBPUSD,M15  1.31914 1.31919 1.31657 1.31712"}}},
    {"data": {"name": "one"}, "mark": {"type": "point", "shape": "triangle-down", "filled": true, "color": "#9a9a9a", "size": 14, "opacity": 1},
     "encoding": {"x": {"datum": 181.9, "axis": null}, "y": {"datum": 1.32299, "title": null}}},
    {"data": {"name": "one"}, "mark": {"type": "point", "shape": "M0,-1A0.2,1 0 1,1 0,1A0.2,1 0 1,1 0,-1Z", "size": 3025, "filled": false, "color": "#ffffff", "strokeWidth": 1.5, "opacity": 1},
     "encoding": {"x": {"datum": 173.3, "axis": null}, "y": {"datum": 1.32069, "title": null}}},
    {"data": {"name": "one"}, "mark": {"type": "rule", "color": "#ffffff", "strokeWidth": 2.2},
     "encoding": {"x": {"datum": 190.1, "axis": null}, "y": {"datum": 1.32149, "title": null}, "x2": {"datum": 176.3}, "y2": {"datum": 1.32104}}},
    {"data": {"name": "one"}, "mark": {"type": "point", "shape": "triangle-up", "filled": true, "color": "#ffffff", "size": 70, "angle": 250, "opacity": 1},
     "encoding": {"x": {"datum": 176.3, "axis": null}, "y": {"datum": 1.32104, "title": null}}},
    {"data": {"name": "one"}, "mark": {"type": "text", "fontSize": 11.5, "color": "#f2f2f2", "align": "left", "baseline": "middle"},
     "encoding": {"x": {"datum": 194.7, "axis": null}, "y": {"datum": 1.32138, "title": null}, "text": {"value": "做空进场时机"}}},
    {"data": {"name": "one"}, "mark": {"type": "text", "fontSize": 11.5, "color": "#f2f2f2", "align": "left", "baseline": "middle"},
     "encoding": {"x": {"datum": 194.7, "axis": null}, "y": {"datum": 1.32096, "title": null}, "text": {"value": "K线低于均线"}}},
    {"data": {"name": "one"}, "mark": {"type": "text", "fontSize": 11.5, "color": "#f2f2f2", "align": "left", "baseline": "middle"},
     "encoding": {"x": {"datum": 194.7, "axis": null}, "y": {"datum": 1.32057, "title": null}, "text": {"value": "通道下行"}}}
  ]
},
{
  "width": 779, "height": 45,
  "layer": [
    {"data": {"name": "candles"}, "mark": {"type": "rule", "strokeWidth": 1},
     "encoding": {
      "x": {"field": "i", "type": "quantitative", "scale": {"domain": [-0.3, 227.14], "nice": false, "zero": false}, "axis": null},
      "y": {"field": "z", "type": "quantitative", "scale": {"domain": [-247, 370], "nice": false, "zero": false},
       "axis": {"orient": "right", "title": null, "labels": false, "values": [100, 200, 300.4843]}},
      "y2": {"datum": 0},
      "color": {"condition": {"test": "datum.z >= 0", "value": "#b7c654"}, "value": "#d9745a"}}},
    {"data": {"name": "one"}, "mark": {"type": "rule", "color": "#55c22c", "strokeWidth": 1},
     "encoding": {"x": {"datum": -0.3, "axis": null}, "x2": {"datum": 227.14}, "y": {"datum": 0, "title": null}}},
    {"data": {"name": "candles"}, "mark": {"type": "line", "color": "#c9b43c", "strokeWidth": 1},
     "encoding": {
      "x": {"field": "i", "type": "quantitative", "scale": {"domain": [-0.3, 227.14], "nice": false, "zero": false}, "axis": null},
      "y": {"field": "z", "type": "quantitative", "scale": {"domain": [-247, 370], "nice": false, "zero": false}, "title": null}}},
    {"data": {"name": "candles"}, "mark": {"type": "line", "color": "#7b8a99", "strokeWidth": 0.8},
     "encoding": {
      "x": {"field": "i", "type": "quantitative", "scale": {"domain": [-0.3, 227.14], "nice": false, "zero": false}, "axis": null},
      "y": {"field": "t", "type": "quantitative", "scale": {"domain": [-247, 370], "nice": false, "zero": false}, "title": null}}},
    {"data": {"name": "iticks"}, "mark": {"type": "text", "font": "Liberation Sans", "fontSize": 4.3, "color": "#a9a9a9", "align": "left", "baseline": "middle"},
     "encoding": {"x": {"datum": 227.95, "axis": null}, "y": {"field": "v", "type": "quantitative", "title": null}, "text": {"field": "v", "type": "quantitative", "format": ".4~f"}}},
    {"data": {"name": "one"}, "mark": {"type": "text", "font": "Liberation Sans", "fontSize": 5, "color": "#b5b5b5", "align": "left", "baseline": "middle"},
     "encoding": {"x": {"datum": 0.6, "axis": null}, "y": {"datum": 315, "title": null}, "text": {"value": "ZCCI(-83) [TCCI(-5)] [per EMA: 68]  -237.0574  -146.8584"}}}
  ]
},
{
  "width": 779, "height": 15,
  "layer": [
    {"data": {"name": "candles"}, "mark": {"type": "rule", "strokeWidth": 2.2},
     "encoding": {
      "x": {"field": "i", "type": "quantitative", "scale": {"domain": [-0.3, 227.14], "nice": false, "zero": false},
        "axis": {"orient": "bottom", "title": null, "domain": false, "labels": false,
          "values": [0,8,16,24,32,40,48,56,64,72,80,88,96,104,112,120,128,136,144,152,160,168,176]}},
      "y": {"datum": 0, "scale": {"domain": [0, 1], "nice": false, "zero": false}, "axis": null}, "y2": {"datum": 1},
      "color": {"condition": {"test": "datum.m == 'r'", "value": "#b9463e"}, "value": "#4f9f6d"}}},
    {"data": {"name": "dticks"}, "mark": {"type": "text", "font": "Liberation Sans", "fontSize": 4.3, "color": "#a9a9a9", "align": "left", "baseline": "middle"},
     "encoding": {"x": {"field": "i", "type": "quantitative", "title": null}, "y": {"datum": -0.35, "axis": null}, "text": {"field": "d", "type": "nominal"}}},
    {"data": {"name": "one"}, "mark": {"type": "rect", "fill": "transparent", "stroke": "#ffffff", "strokeWidth": 1.5},
     "encoding": {"x": {"datum": 158.25, "title": null}, "x2": {"datum": 187.4}, "y": {"datum": 22.6, "axis": null}, "y2": {"datum": -0.6}}},
    {"data": {"name": "one"}, "mark": {"type": "text", "font": "Noto Sans CJK SC", "fontSize": 26, "fontWeight": "bold", "fontStyle": "italic", "color": "#8a8a8a", "opacity": 0.55, "align": "left", "baseline": "middle"},
     "encoding": {"x": {"datum": 194.5, "title": null}, "y": {"datum": 1.67, "axis": null}, "text": {"value": "518外汇网"}}},
    {"data": {"name": "one"}, "mark": {"type": "text", "font": "Liberation Serif", "fontSize": 19, "color": "#8c8c8c", "opacity": 0.85, "align": "left", "baseline": "middle"},
     "encoding": {"x": {"datum": 194.5, "title": null}, "y": {"datum": 0.27, "axis": null}, "text": {"value": "518waihui.com"}}},
    {"data": {"name": "one"}, "mark": {"type": "point", "shape": "M0,-1A0.68,1 0 1,1 0,1A0.68,1 0 1,1 0,-1Z", "size": 361, "filled": false, "color": "#ffffff", "strokeWidth": 1.5, "opacity": 1},
     "encoding": {"x": {"datum": 173.4, "title": null}, "y": {"datum": 2.07, "axis": null}}},
    {"data": {"name": "one"}, "mark": {"type": "point", "shape": "M0,-1A0.76,1 0 1,1 0,1A0.76,1 0 1,1 0,-1Z", "size": 289, "filled": false, "color": "#ffffff", "strokeWidth": 1.5, "opacity": 1},
     "encoding": {"x": {"datum": 173.6, "title": null}, "y": {"datum": 0.33, "axis": null}}},
    {"data": {"name": "one"}, "mark": {"type": "rule", "color": "#ffffff", "strokeWidth": 2.2},
     "encoding": {"x": {"datum": 189.5, "title": null}, "y": {"datum": 5.0, "axis": null}, "x2": {"datum": 176.5}, "y2": {"datum": 2.98}}},
    {"data": {"name": "one"}, "mark": {"type": "point", "shape": "triangle-up", "filled": true, "color": "#ffffff", "size": 70, "angle": 236, "opacity": 1},
     "encoding": {"x": {"datum": 176.5, "title": null}, "y": {"datum": 2.98, "axis": null}}},
    {"data": {"name": "one"}, "mark": {"type": "rule", "color": "#ffffff", "strokeWidth": 2.2},
     "encoding": {"x": {"datum": 190.4, "title": null}, "y": {"datum": 2.33, "axis": null}, "x2": {"datum": 177.7}, "y2": {"datum": 0.44}}},
    {"data": {"name": "one"}, "mark": {"type": "point", "shape": "triangle-up", "filled": true, "color": "#ffffff", "size": 70, "angle": 237, "opacity": 1},
     "encoding": {"x": {"datum": 177.7, "title": null}, "y": {"datum": 0.44, "axis": null}}},
    {"data": {"name": "one"}, "mark": {"type": "text", "fontSize": 11.5, "color": "#f2f2f2", "align": "left", "baseline": "middle"},
     "encoding": {"x": {"datum": 191.8, "title": null}, "y": {"datum": 5.03, "axis": null}, "text": {"value": "指标低于零线"}}},
    {"data": {"name": "one"}, "mark": {"type": "text", "fontSize": 11.5, "color": "#f2f2f2", "align": "left", "baseline": "middle"},
     "encoding": {"x": {"datum": 192.4, "title": null}, "y": {"datum": 2.2, "axis": null}, "text": {"value": "动能柱为红色"}}}
  ]
}
]
}
